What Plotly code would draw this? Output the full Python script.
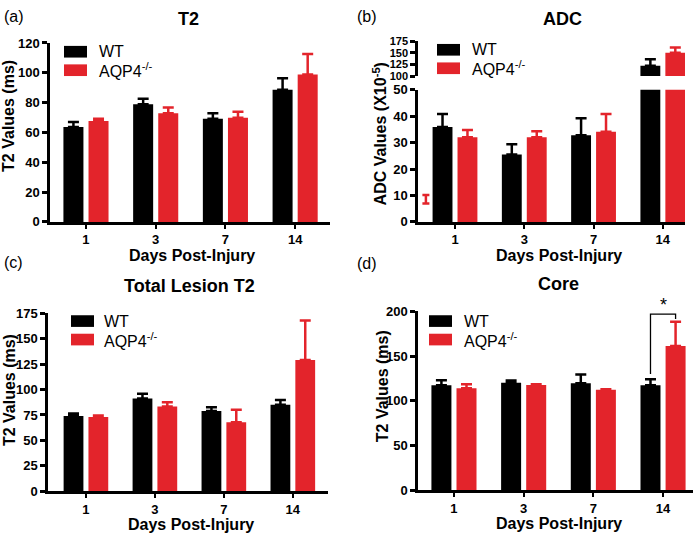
import plotly.graph_objects as go

# ---------------- data ----------------
days = ["1", "3", "7", "14"]

t2_wt_mean = [63.7, 78.9, 69.1, 88.7]
t2_wt_err = [3.3, 3.7, 3.7, 7.6]
t2_ko_mean = [67.6, 72.8, 69.8, 98.9]
t2_ko_err = [1.5, 3.9, 4.1, 13.7]

adc_wt_mean = [35.9, 25.5, 32.8, 122]
adc_wt_err = [4.9, 3.9, 6.4, 14]
adc_ko_mean = [32.0, 32.0, 34.1, 150]
adc_ko_err = [2.7, 2.3, 6.7, 11]
adc_stray_y = [7.0]      # stray red error-bar fragment near the y axis
adc_stray_err = [3.2]

les_wt_mean = [74.0, 91.3, 78.9, 85.0]
les_wt_err = [2.4, 4.7, 3.8, 4.8]
les_ko_mean = [73.0, 83.4, 67.8, 129.0]
les_ko_err = [1.5, 4.1, 12.4, 39.0]

core_wt_mean = [117.4, 120.2, 119.6, 117.4]
core_wt_err = [5.6, 2.6, 9.7, 6.6]
core_ko_mean = [114.0, 117.7, 112.3, 161.2]
core_ko_err = [4.5, 0.8, 0.5, 27.2]

# ---------------- style ----------------
W, H = 700, 543
FONT = "Liberation Sans, Arial, sans-serif"
BLACK = "#000000"
RED = "#E3242B"
OFF = 0.18
BW = 0.287
idx = list(range(len(days)))


def px(x):
    return x / W


def py(y):
    return 1 - y / H


fig = go.Figure()


def add_bars(mean, err, color, xa, ya, offset):
    fig.add_trace(go.Bar(
        x=[i + offset for i in idx], y=mean, width=BW,
        marker=dict(color=color, line=dict(width=0)),
        error_y=dict(type="data", array=err, arrayminus=[0] * len(err),
                     symmetric=False, color=color, thickness=2.5, width=5.5),
        xaxis=xa, yaxis=ya, showlegend=False, hoverinfo="y",
    ))


# (a)
add_bars(t2_wt_mean, t2_wt_err, BLACK, "x", "y", -OFF)
add_bars(t2_ko_mean, t2_ko_err, RED, "x", "y", OFF)
# (b) lower & upper segment
for ya in ("y2", "y5"):
    add_bars(adc_wt_mean, adc_wt_err, BLACK, "x2", ya, -OFF)
    add_bars(adc_ko_mean, adc_ko_err, RED, "x2", ya, OFF)
fig.add_trace(go.Scatter(
    x=[-0.42], y=adc_stray_y, mode="markers", marker=dict(size=1, color="rgba(0,0,0,0)"),
    error_y=dict(type="data", array=adc_stray_err, arrayminus=[0], symmetric=False,
                 color=RED, thickness=2.5, width=3.5),
    xaxis="x2", yaxis="y2", showlegend=False, hoverinfo="skip"))
# (c)
add_bars(les_wt_mean, les_wt_err, BLACK, "x3", "y3", -OFF)
add_bars(les_ko_mean, les_ko_err, RED, "x3", "y3", OFF)
# (d)
add_bars(core_wt_mean, core_wt_err, BLACK, "x4", "y4", -OFF)
add_bars(core_ko_mean, core_ko_err, RED, "x4", "y4", OFF)

tickfont = dict(family=FONT, size=13, color="black", weight="bold")


def xaxis(dom, anchor, rng):
    return dict(domain=[px(dom[0]), px(dom[1])], anchor=anchor, range=rng,
                tickmode="array", tickvals=idx, ticktext=days,
                showline=True, linecolor="black", linewidth=2.5,
                ticks="outside", ticklen=4, tickwidth=2, tickcolor="black",
                showgrid=False, zeroline=False, tickfont=tickfont, fixedrange=True)


def yaxis(dom, anchor, rng, dtick, size=13):
    return dict(domain=[py(dom[1]), py(dom[0])], anchor=anchor, range=rng, dtick=dtick,
                showline=True, linecolor="black", linewidth=2.5,
                ticks="outside", ticklen=5, tickwidth=2.5, tickcolor="black",
                showgrid=False, zeroline=False,
                tickfont=dict(family=FONT, size=size, color="black", weight="bold"),
                fixedrange=True)


D_X4 = (418, 693)
D_Y4 = (313, 497)
R_X4 = [-0.516, 3.43]
R_Y4 = [0, 200]

fig.update_layout(
    width=W, height=H, margin=dict(l=0, r=0, t=0, b=0),
    paper_bgcolor="white", plot_bgcolor="white", showlegend=False,
    barmode="overlay",
    xaxis=xaxis((50, 330), "y", [-0.516, 3.50]),
    yaxis=yaxis((37, 221), "x", [0, 120], 20),
    xaxis2=xaxis((418, 685), "y2", [-0.534, 3.32]),
    yaxis2=yaxis((85, 221), "x2", [0, 50], 10),
    yaxis5=yaxis((35, 71), "x2", [100, 175], 25, size=11),
    xaxis3=xaxis((48, 328), "y3", [-0.55, 3.51]),
    yaxis3=yaxis((315, 498), "x3", [0, 175], 25),
    xaxis4=xaxis(D_X4, "y4", R_X4),
    yaxis4=yaxis(D_Y4, "x4", R_Y4, 50),
)

ann = []


def text(x, y, s, size, bold=False, angle=0, xanchor="center"):
    ann.append(dict(x=px(x), y=py(y), xref="paper", yref="paper", text=s,
                    showarrow=False, textangle=angle, xanchor=xanchor, yanchor="middle",
                    font=dict(family=FONT, size=size, color="black",
                              weight="bold" if bold else "normal")))


# panel letters
text(2, 10, "(a)", 16, xanchor="left")
text(355, 10, "(b)", 16, xanchor="left")
text(2, 263, "(c)", 16, xanchor="left")
text(355, 264, "(d)", 16, xanchor="left")
# titles
text(188.5, 12, "T2", 18, True)
text(562, 12, "ADC", 18, True)
text(190, 287, "Total Lesion T2", 18, True)
text(558.5, 285, "Core", 18, True)
# x titles
text(192, 256, "Days Post-Injury", 16, True)
text(559, 256, "Days Post-Injury", 16, True)
text(190.5, 532, "Days Post-Injury", 16, True)
text(559, 531, "Days Post-Injury", 16, True)
# y titles
text(9, 112, "T2 Values (ms)", 16, True, -90)
text(380, 130, "ADC Values (X10<sup>-5</sup>)", 16, True, -90)
text(9, 394, "T2 Values (ms)", 16, True, -90)
text(382, 390, "T2 Values (ms)", 16, True, -90)

# legends
shapes = []
legend_pos = [(64, 40, 97), (437, 38, 470), (71, 317, 102), (429, 317, 462)]
for lx, ly, tx in legend_pos:
    shapes.append(dict(type="rect", xref="paper", yref="paper",
                       x0=px(lx), x1=px(lx + 23), y0=py(ly + 12), y1=py(ly),
                       fillcolor=BLACK, line=dict(width=0)))
    shapes.append(dict(type="rect", xref="paper", yref="paper",
                       x0=px(lx), x1=px(lx + 23), y0=py(ly + 31), y1=py(ly + 19),
                       fillcolor=RED, line=dict(width=0)))
    text(tx, ly + 6, "WT", 16, xanchor="left")
    text(tx, ly + 25, "AQP4<sup>-/-</sup>", 16, xanchor="left")

# significance bracket in (d)
br_left = 3 - OFF
br_right = 3 + OFF
br_low_left = core_wt_mean[3] + core_wt_err[3] + 6
br_top = 197
br_low_right = 191.5
shapes.append(dict(type="path", xref="x4", yref="y4",
                   path=f"M{br_left},{br_low_left} L{br_left},{br_top} L{br_right},{br_top} L{br_right},{br_low_right}",
                   line=dict(color="black", width=1.3)))

# star above the bracket (paper coords since it lies above the axis range)
star_x_data = 3
star_y_data = br_top + 10
sx = px(D_X4[0]) + (star_x_data - R_X4[0]) / (R_X4[1] - R_X4[0]) * (px(D_X4[1]) - px(D_X4[0]))
sy = py(D_Y4[1]) + (star_y_data - R_Y4[0]) / (R_Y4[1] - R_Y4[0]) * (py(D_Y4[0]) - py(D_Y4[1]))
ann.append(dict(x=sx, y=sy, xref="paper", yref="paper", text="*", showarrow=False,
                xanchor="center", yanchor="middle",
                font=dict(family=FONT, size=18, color="black")))

fig.update_layout(annotations=ann, shapes=shapes)
fig.write_html("out.html", config={"displayModeBar": False},
               post_script="document.body.style.margin='0';document.body.style.overflow='hidden';")
